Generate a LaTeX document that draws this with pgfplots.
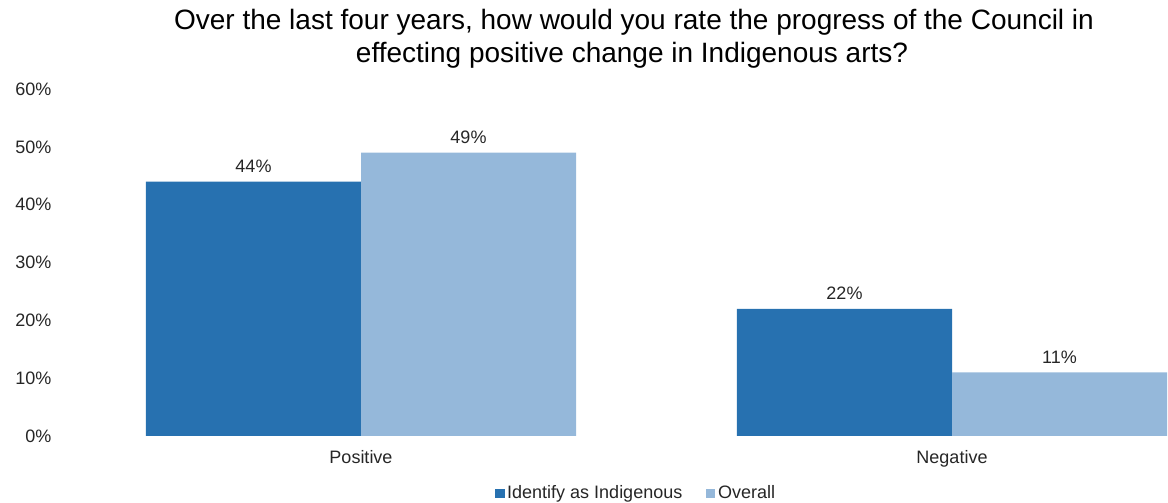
\documentclass[border=0pt]{standalone}
\usepackage{fontspec}
\setmainfont{Liberation Sans}
\usepackage{pgfplots}
\pgfplotsset{compat=1.18}
\definecolor{darkb}{HTML}{2771B0}
\definecolor{lightb}{HTML}{95B8DA}
\definecolor{txt}{HTML}{262626}
\begin{document}
\begin{tikzpicture}
\useasboundingbox (0,0) rectangle (876pt,377.25pt);
\begin{axis}[
  at={(49.125pt,50.25pt)}, anchor=south west,
  scale only axis, width=826.875pt, height=260.25pt,
  ybar=0pt, bar width=161.25pt,
  xmin=-0.5, xmax=1.3655, ymin=0, ymax=60,
  xtick={0,1}, xticklabels={Positive,Negative},
  ytick={0,10,20,30,40,50,60},
  yticklabels={0\%,10\%,20\%,30\%,40\%,50\%,60\%},
  axis line style={draw=none}, major tick length=0pt,
  tick label style={font=\fontsize{13.5}{16}\selectfont, text=txt},
  yticklabel style={anchor=east, xshift=-7pt},
  xticklabel style={yshift=-7.5pt},
  nodes near coords={\pgfmathprintnumber[assume math mode=true]{\pgfplotspointmeta}\%},
  every node near coord/.append style={font=\fontsize{13.5}{16}\selectfont, text=txt, yshift=3pt},
  legend style={at={(0.518,-0.165)}, anchor=center, draw=none, legend columns=2,
    font=\fontsize{13.5}{16}\selectfont, text=txt,
    /tikz/every even column/.append style={column sep=16pt}},
  legend image code/.code={\fill[#1] (0pt,-3.4pt) rectangle (6.8pt,3.4pt);},
]
\addplot[fill=darkb, draw=none] coordinates {(0,44) (1,22)};
\addplot[fill=lightb, draw=none] coordinates {(0,49) (1,11)};
\legend{Identify as Indigenous, Overall}
\end{axis}
\node[anchor=base, font=\fontsize{21}{24.75}\selectfont, text=black] at (475.5pt,354.75pt)
  {Over the last four years, how would you rate the progress of the Council in};
\node[anchor=base, font=\fontsize{21}{24.75}\selectfont, text=black] at (474pt,330pt)
  {effecting positive change in Indigenous arts?};
\end{tikzpicture}
\end{document}
